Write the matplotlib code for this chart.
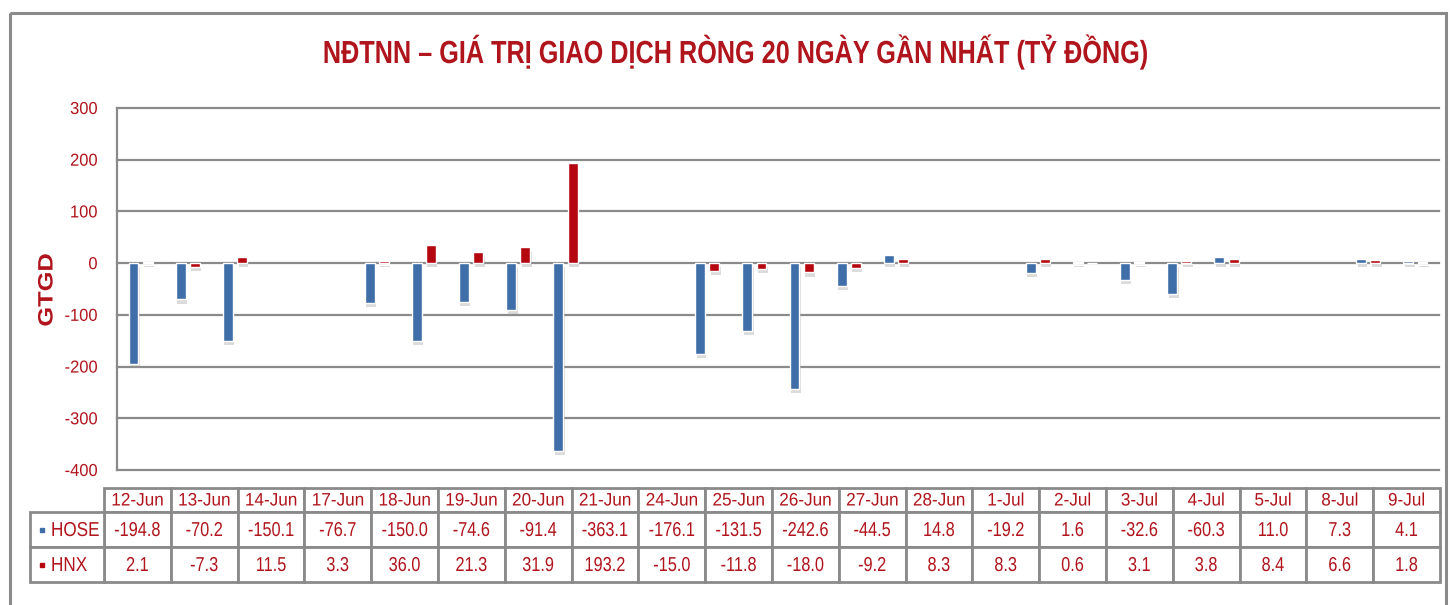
import numpy as np
import pandas as pd
import matplotlib
matplotlib.use('Agg')
import matplotlib.pyplot as plt
from matplotlib.patches import Rectangle
from matplotlib.transforms import Affine2D
import matplotlib.patheffects as pe

plt.rcParams['font.family'] = ['Liberation Sans', 'DejaVu Sans']
plt.rcParams['axes.unicode_minus'] = False

# data
dates = ['12-Jun', '13-Jun', '14-Jun', '17-Jun', '18-Jun', '19-Jun', '20-Jun',
         '21-Jun', '24-Jun', '25-Jun', '26-Jun', '27-Jun', '28-Jun', '1-Jul',
         '2-Jul', '3-Jul', '4-Jul', '5-Jul', '8-Jul', '9-Jul']
hose = [-194.8, -70.2, -150.1, -76.7, -150.0, -74.6, -91.4, -363.1, -176.1,
        -131.5, -242.6, -44.5, 14.8, -19.2, 1.6, -32.6, -60.3, 11.0, 7.3, 4.1]
hnx = [2.1, -7.3, 11.5, 3.3, 36.0, 21.3, 31.9, 193.2, -15.0, -11.8, -18.0,
       -9.2, 8.3, 8.3, 0.6, 3.1, 3.8, 8.4, 6.6, 1.8]
series = ['HOSE', 'HNX']
yticks = [-400, -300, -200, -100, 0, 100, 200, 300]

title = 'NĐTNN – GIÁ TRỊ GIAO DỊCH RÒNG 20 NGÀY GẦN NHẤT (TỶ ĐỒNG)'

blue = '#3f6ea8'
red = '#b5070f'
txt_red = '#b0141c'
grid_c = '#8a8a8a'


class Squeeze(pe.AbstractPathEffect):
    # no narrow font installed -> scale text paths horizontally
    def __init__(self, sx, anchor='center'):
        super().__init__()
        self.sx = sx
        self.anchor = anchor

    def draw_path(self, renderer, gc, tpath, affine, rgbFace=None):
        xs = tpath.vertices[:, 0]
        if len(xs) == 0:
            return
        if self.anchor == 'left':
            cx = xs.min()
        elif self.anchor == 'right':
            cx = xs.max()
        else:
            cx = (xs.min() + xs.max()) / 2
        t = Affine2D().translate(-cx, 0).scale(self.sx, 1).translate(cx, 0) + affine
        renderer.draw_path(gc, tpath, t, rgbFace)


W, H = 1452, 605
fig = plt.figure(figsize=(W / 100, H / 100), dpi=100)

# overlay in pixel coords for frame, title and table
ov = fig.add_axes([0, 0, 1, 1])
ov.set_xlim(0, W)
ov.set_ylim(H, 0)
ov.axis('off')

ov.add_patch(Rectangle((10, 13), 1436, 620, fill=False, edgecolor=grid_c, lw=2.2, clip_on=False))
ov.text(737, 52, title, ha='center', va='center', fontsize=23, fontweight='bold', color=txt_red,
        path_effects=[Squeeze(0.79)])
ov.text(47, 290, 'GTGD', rotation=90, ha='center', va='center', fontsize=15,
        fontweight='bold', color=txt_red, path_effects=[Squeeze(1.22)])

# table
tx0, tx1 = 104, 1440
cw = (tx1 - tx0) / len(dates)
rows_y = [(488, 512), (512, 547), (547, 582)]
for i, d in enumerate(dates):
    x = tx0 + i * cw
    y0, y1 = rows_y[0]
    ov.add_patch(Rectangle((x, y0), cw, y1 - y0, facecolor='white', edgecolor=grid_c, lw=2))
    ov.text(x + cw / 2, (y0 + y1) / 2 + 1, d, ha='center', va='center', fontsize=13,
            color=txt_red, path_effects=[Squeeze(0.95)])
    for r, vals in enumerate([hose, hnx]):
        y0, y1 = rows_y[r + 1]
        ov.add_patch(Rectangle((x, y0), cw, y1 - y0, facecolor='white', edgecolor=grid_c, lw=2))
        ov.text(x + cw / 2, (y0 + y1) / 2 + 1, f'{vals[i]:.1f}', ha='center', va='center',
                fontsize=14.5, color=txt_red, path_effects=[Squeeze(0.81)])
for r, (name, col) in enumerate(zip(series, [blue, red])):
    y0, y1 = rows_y[r + 1]
    ov.add_patch(Rectangle((30, y0), tx0 - 30, y1 - y0, facecolor='white', edgecolor=grid_c, lw=2))
    ov.plot([42], [(y0 + y1) / 2], marker='s', ms=2.6, color=col)
    ov.text(51, (y0 + y1) / 2 + 1, name, ha='left', va='center', fontsize=14.5,
            color=txt_red, path_effects=[Squeeze(0.85, 'left')])

# bar chart on a date axis (weekends leave gaps)
ax = fig.add_axes([117 / W, (H - 470) / H, (1439 - 117) / W, (470 - 108) / H])
dt = pd.to_datetime([d + '-2019' for d in dates], format='%d-%b-%Y')
x = np.asarray((dt - dt[0]).days, dtype=float) + 0.5
nd = (dt[-1] - dt[0]).days + 1

shadow = [pe.SimplePatchShadow(offset=(1, -3), shadow_rgbFace='#999999', alpha=0.35), pe.Normal()]
ax.bar(x - 0.15, hose, width=0.21, color=blue, edgecolor='white', lw=1.0, zorder=3,
       path_effects=shadow)
ax.bar(x + 0.15, hnx, width=0.21, color=red, edgecolor='white', lw=1.0, zorder=3,
       path_effects=shadow)

ax.set_xlim(0, nd)
ax.set_ylim(-400, 300)
ax.set_yticks(yticks)
ax.set_xticks([])
for t in yticks:
    ax.axhline(t, color=grid_c, lw=1.6, zorder=1, clip_on=False)
for s in ['top', 'right', 'bottom']:
    ax.spines[s].set_visible(False)
ax.spines['left'].set_color(grid_c)
ax.spines['left'].set_linewidth(1.6)
ax.tick_params(axis='y', length=0, pad=14, labelsize=12.5, labelcolor=txt_red)
for lab in ax.get_yticklabels():
    lab.set_path_effects([Squeeze(0.95, 'right')])

fig.savefig('out.png', dpi=100)
